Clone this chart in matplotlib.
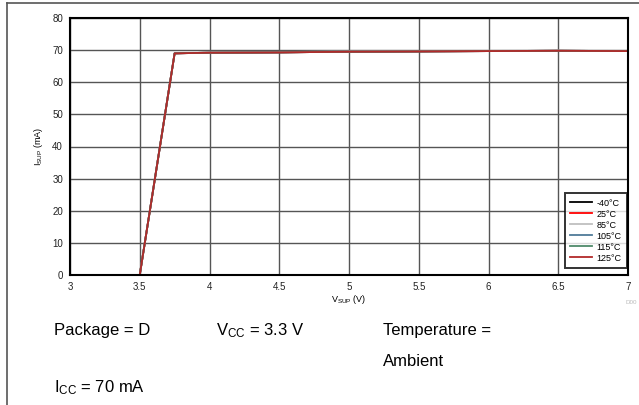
import matplotlib
matplotlib.use("Agg")
import matplotlib.pyplot as plt
from matplotlib.lines import Line2D

plt.rcParams['font.family'] = ['Liberation Sans', 'DejaVu Sans']
plt.rcParams['mathtext.fontset'] = 'custom'
plt.rcParams['mathtext.rm'] = 'Liberation Sans'
plt.rcParams['mathtext.it'] = 'Liberation Sans'

vsup = [3.5, 3.75, 4.0, 4.5, 5.0, 5.5, 6.0, 6.5, 7.0]
isup_m40 = [0.0, 69.0, 69.2, 69.3, 69.5, 69.6, 69.7, 69.8, 69.7]
isup_25 = [0.0, 69.0, 69.2, 69.3, 69.5, 69.6, 69.7, 69.8, 69.7]
isup_85 = [0.0, 69.1, 69.3, 69.4, 69.6, 69.7, 69.8, 69.9, 69.8]
isup_105 = [0.0, 69.0, 69.2, 69.3, 69.5, 69.6, 69.7, 69.8, 69.7]
isup_115 = [0.0, 69.0, 69.2, 69.3, 69.5, 69.6, 69.7, 69.8, 69.7]
isup_125 = [0.0, 69.0, 69.2, 69.3, 69.5, 69.6, 69.7, 69.8, 69.7]
labels = ['-40°C', '25°C', '85°C', '105°C', '115°C', '125°C']
colors = ['#000000', '#ff0000', '#bfbfbf', '#4f7b99', '#4e8a6a', '#b22a2a']
xticks = [3, 3.5, 4, 4.5, 5, 5.5, 6, 6.5, 7]
yticks = [0, 10, 20, 30, 40, 50, 60, 70, 80]

fig = plt.figure(figsize=(6.39, 4.05), dpi=100)
W, H = 639, 405
ax = fig.add_axes([70 / W, 1 - 275 / H, 558 / W, 257 / H])

series = [isup_m40, isup_25, isup_85, isup_105, isup_115, isup_125]
for ys, lab, c in zip(series, labels, colors):
    ax.plot(vsup, ys, color=c, lw=1.3, label=lab)

ax.set_xlim(3, 7)
ax.set_ylim(0, 80)
ax.set_xticks(xticks)
ax.set_xticklabels(['3', '3.5', '4', '4.5', '5', '5.5', '6', '6.5', '7'])
ax.set_yticks(yticks)
ax.tick_params(length=0, labelsize=7, pad=5, colors='#222222')
ax.grid(True, color='#555555', lw=1.0)
ax.set_axisbelow(True)
for s in ax.spines.values():
    s.set_linewidth(1.5)
    s.set_color('black')
ax.set_xlabel(r'$\mathregular{V_{SUP}}$ (V)', fontsize=6.5, labelpad=1)
ax.set_ylabel(r'$\mathregular{I_{SUP}}$ (mA)', fontsize=6.5, labelpad=5)

leg = ax.legend(loc='lower right', fontsize=6.5, frameon=True, fancybox=False,
                edgecolor='black', borderpad=0.6, labelspacing=0.22,
                handlelength=2.4, handletextpad=0.5, borderaxespad=0,
                bbox_to_anchor=(627 / W, 1 - 268 / H), bbox_transform=fig.transFigure)
leg.get_frame().set_linewidth(1.4)

fig.text(626 / W, 1 - 302 / H, 'D00', fontsize=4.5, color='#bbbbbb', ha='left', va='center')

# figure border lines (left and top)
fig.add_artist(Line2D([7 / W, 7 / W], [0, 1 - 3 / H], color='#555555', lw=1.2, transform=fig.transFigure))
fig.add_artist(Line2D([7 / W, 1], [1 - 3 / H, 1 - 3 / H], color='#555555', lw=1.2, transform=fig.transFigure))

fs = 12
fig.text(54 / W, 1 - 331 / H, 'Package = D', fontsize=fs, va='center', ha='left')
fig.text(216 / W, 1 - 331 / H, r'$\mathregular{V_{CC}}$ = 3.3 V', fontsize=fs, va='center', ha='left')
fig.text(383 / W, 1 - 331 / H, 'Temperature =', fontsize=fs, va='center', ha='left')
fig.text(383 / W, 1 - 362 / H, 'Ambient', fontsize=fs, va='center', ha='left')
fig.text(54 / W, 1 - 388 / H, r'$\mathregular{I_{CC}}$ = 70 mA', fontsize=fs, va='center', ha='left')

fig.savefig('out.png', dpi=100)
